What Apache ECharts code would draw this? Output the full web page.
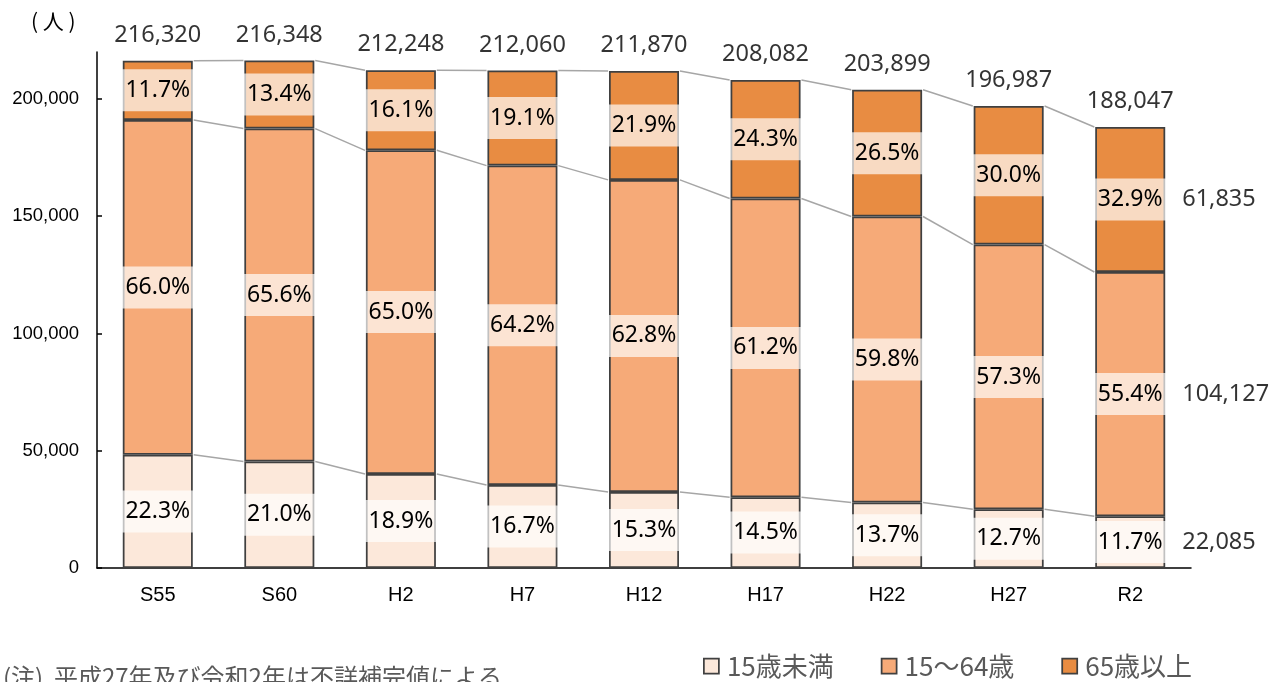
<!DOCTYPE html>
<html><head><meta charset="utf-8">
<script src="https://cdn.jsdelivr.net/npm/echarts@6/dist/echarts.min.js"></script>
<style>html,body{margin:0;padding:0;background:#fff}#c{width:1282px;height:682px}</style>
</head><body><div id="c"></div>
<script>
const categories = ['S55','S60','H2','H7','H12','H17','H22','H27','R2'];
const totals = [216320,216348,212248,212060,211870,208082,203899,196987,188047];
const under15 = [48240,45433,40115,35414,32416,30172,27934,25017,22085];
const age15to64 = [142771,141924,137961,136143,133054,127346,121932,112874,104127];
const over65 = [25309,28991,34172,40503,46400,50564,54033,59096,61835];
const pctUnder15 = ['22.3','21.0','18.9','16.7','15.3','14.5','13.7','12.7','11.7'];
const pct15to64 = ['66.0','65.6','65.0','64.2','62.8','61.2','59.8','57.3','55.4'];
const pctOver65 = ['11.7','13.4','16.1','19.1','21.9','24.3','26.5','30.0','32.9'];
const yTicks = [0,50000,100000,150000,200000];
const seriesNames = ['15歳未満','15～64歳','65歳以上'];

const BAR_W = 70;
const fmt = v => Number(v).toLocaleString('en-US');
const cum1 = under15.slice();
const cum2 = under15.map((v,i)=>v+age15to64[i]);
const cum3 = cum2.map((v,i)=>v+over65[i]);
const links = [];
[cum1,cum2,cum3].forEach(arr=>{
  for(let i=0;i<arr.length-1;i++) links.push([i, arr[i], arr[i+1]]);
});
const last = categories.length-1;
const rightVals = [under15[last], age15to64[last], over65[last]];
const rightPts = [
  [last, cum1[last]/2],
  [last, (cum1[last]+cum2[last])/2],
  [last, (cum2[last]+cum3[last])/2]
];

const pctFont = 'Noto Sans, Noto Sans CJK JP, sans-serif';
function barLabel(pcts){
  return {
    show:true, position:'inside', formatter: p => pcts[p.dataIndex]+'%',
    color:'#000', fontSize:23, fontFamily:pctFont,
    backgroundColor:'rgba(255,255,255,0.68)', width:72, align:'center',
    padding:[9,0], lineHeight:24
  };
}
const border = {borderColor:'#404040', borderWidth:1.75};

const chart = echarts.init(document.getElementById('c'), null, {renderer:'canvas'});
chart.setOption({
  animation:false,
  backgroundColor:'#fff',
  grid:{left:97, right:91, top:52, bottom:114, outerBoundsMode:'none'},
  legend:{
    data:seriesNames, left:698, top:648, itemWidth:15, itemHeight:15, itemGap:47, icon:'rect',
    textStyle:{fontSize:26, color:'#595959', fontFamily:'Noto Sans CJK JP', padding:[0,0,0,3]},
    itemStyle:{borderColor:'#404040', borderWidth:1.75}
  },
  xAxis:{
    type:'category', data:categories,
    axisLine:{lineStyle:{color:'#000', width:1.5}},
    axisTick:{show:false},
    axisLabel:{fontSize:20, color:'#000', fontFamily:'Liberation Sans, Arial', margin:17}
  },
  yAxis:{
    type:'value', min:0, max:220000, interval:50000,
    axisLine:{show:true, lineStyle:{color:'#000', width:1.5}},
    axisTick:{show:true, inside:true, length:5, lineStyle:{color:'#000', width:1.5}, customValues:yTicks},
    axisLabel:{fontSize:18.5, color:'#000', fontFamily:'Liberation Sans, Arial', margin:18, customValues:yTicks, formatter:v=>fmt(v)},
    splitLine:{show:false}
  },
  graphic:[
    {type:'text', left:31, top:11, style:{text:'( 人 )', fill:'#000', font:'21px "Noto Sans CJK JP"'}},
    {type:'text', left:3, top:665, style:{text:'(注)  平成27年及び令和2年は不詳補完値による', fill:'#595959', font:'24px "Noto Sans CJK JP"'}}
  ],
  series:[
    {name:seriesNames[0], type:'bar', stack:'t', barWidth:BAR_W, data:under15,
     itemStyle:Object.assign({color:'#FCE8DA'}, border), label:barLabel(pctUnder15)},
    {name:seriesNames[1], type:'bar', stack:'t', barWidth:BAR_W, data:age15to64,
     itemStyle:Object.assign({color:'#F6AA78'}, border), label:barLabel(pct15to64)},
    {name:seriesNames[2], type:'bar', stack:'t', barWidth:BAR_W, data:over65,
     itemStyle:Object.assign({color:'#E88C42'}, border), label:barLabel(pctOver65)},
    {type:'custom', data:links, encode:{x:0, y:[1,2]}, z:1, silent:true,
     renderItem:function(params, api){
       const i = api.value(0);
       const p1 = api.coord([i, api.value(1)]);
       const p2 = api.coord([i+1, api.value(2)]);
       const h = BAR_W/2 + 0.9;
       return {type:'line', shape:{x1:p1[0]+h, y1:p1[1], x2:p2[0]-h, y2:p2[1]},
               style:{stroke:'#A6A6A6', lineWidth:1.5}};
     }},
    {type:'scatter', data:totals, symbolSize:0, z:5, silent:true,
     label:{show:true, position:'top', distance:14, formatter:p=>fmt(totals[p.dataIndex]),
            fontSize:23.5, color:'#000', fontFamily:pctFont}},
    {type:'scatter', data:rightPts, symbolSize:0, z:5, silent:true,
     label:{show:true, position:'right', distance:52, formatter:p=>fmt(rightVals[p.dataIndex]),
            fontSize:23.5, color:'#000', fontFamily:pctFont}}
  ]
});
</script></body></html>
